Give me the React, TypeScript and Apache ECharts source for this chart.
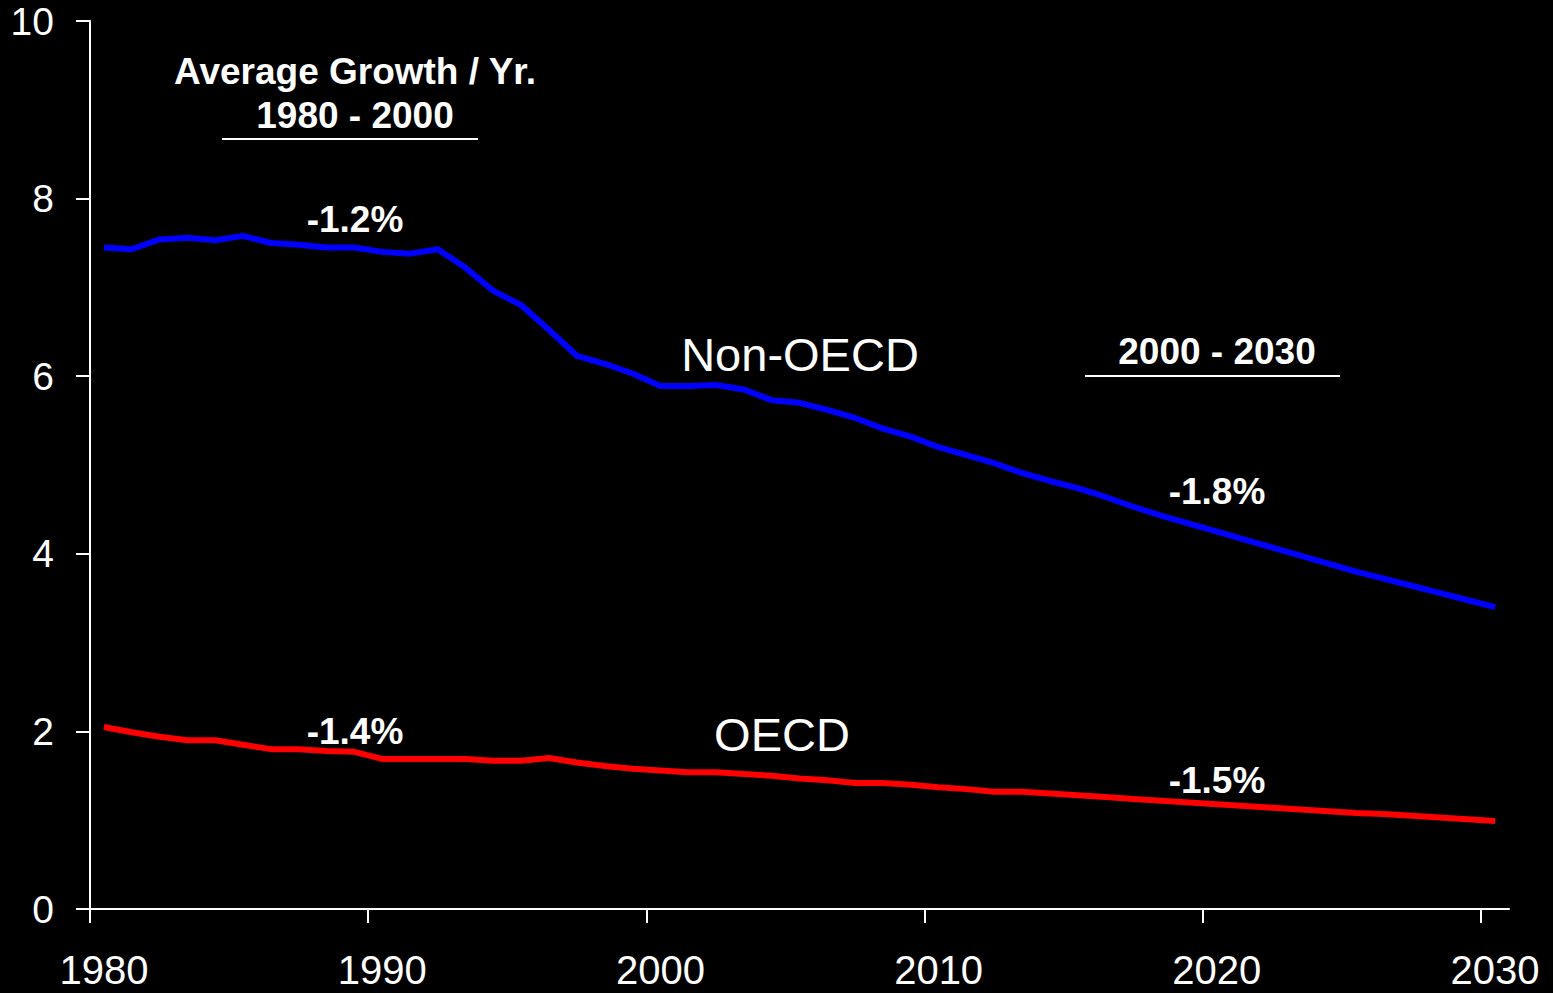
import React, { useEffect, useRef } from 'react';
import * as echarts from 'echarts';

const years = [
  1980, 1981, 1982, 1983, 1984, 1985, 1986, 1987, 1988, 1989,
  1990, 1991, 1992, 1993, 1994, 1995, 1996, 1997, 1998, 1999,
  2000, 2001, 2002, 2003, 2004, 2005, 2006, 2007, 2008, 2009,
  2010, 2011, 2012, 2013, 2014, 2015, 2016, 2017, 2018, 2019,
  2020, 2021, 2022, 2023, 2024, 2025, 2026, 2027, 2028, 2029,
  2030,
];

const nonOecd = [
  7.45, 7.43, 7.54, 7.56, 7.53, 7.58, 7.50, 7.48, 7.45, 7.45,
  7.40, 7.38, 7.43, 7.22, 6.96, 6.80, 6.52, 6.23, 6.14, 6.03,
  5.89, 5.89, 5.90, 5.85, 5.73, 5.70, 5.62, 5.53, 5.41, 5.32,
  5.20, 5.11, 5.02, 4.91, 4.82, 4.74, 4.64, 4.53, 4.43, 4.34,
  4.25, 4.16, 4.07, 3.98, 3.89, 3.80, 3.72, 3.64, 3.56, 3.48,
  3.40,
];

const oecd = [
  2.05, 1.99, 1.94, 1.90, 1.90, 1.85, 1.80, 1.80, 1.78, 1.77,
  1.69, 1.69, 1.69, 1.69, 1.67, 1.67, 1.70, 1.65, 1.61, 1.58,
  1.56, 1.54, 1.54, 1.52, 1.50, 1.47, 1.45, 1.42, 1.42, 1.40,
  1.37, 1.35, 1.32, 1.32, 1.30, 1.28, 1.26, 1.24, 1.22, 1.20,
  1.18, 1.16, 1.14, 1.12, 1.10, 1.08, 1.07, 1.05, 1.03, 1.01,
  0.99,
];

const xTickYears = [1980, 1990, 2000, 2010, 2020, 2030];

const FONT = '"Liberation Sans", Arial, Helvetica, sans-serif';

function txt(text: string, x: number, y: number, bold: boolean, size: number) {
  return {
    type: 'text',
    x,
    y,
    z: 10,
    style: {
      text,
      fill: '#ffffff',
      fontFamily: FONT,
      fontSize: size,
      fontWeight: bold ? 'bold' : 'normal',
      align: 'center',
      verticalAlign: 'middle',
    },
  };
}

function hline(x1: number, x2: number, y: number) {
  return {
    type: 'line',
    z: 10,
    shape: { x1, y1: y, x2, y2: y },
    style: { stroke: '#ffffff', lineWidth: 2 },
  };
}

export default function App() {
  const ref = useRef<HTMLDivElement>(null);

  useEffect(() => {
    document.body.style.margin = '0';
    document.body.style.background = '#000';
    const chart = echarts.init(ref.current!, null, { renderer: 'svg' });
    chart.setOption({
      animation: false,
      backgroundColor: '#000000',
      grid: { left: 90, right: 44, top: 21, bottom: 84 },
      xAxis: {
        type: 'value',
        min: 1980,
        max: 2031,
        splitLine: { show: false },
        axisLine: { show: true, onZero: false, lineStyle: { color: '#ffffff', width: 2 } },
        axisTick: {
          show: true,
          length: 14,
          lineStyle: { color: '#ffffff', width: 2 },
          customValues: xTickYears,
        },
        axisLabel: {
          color: '#ffffff',
          fontSize: 40,
          fontFamily: FONT,
          margin: 41,
          customValues: xTickYears.map((y) => y + 0.5),
          formatter: (v: number) => String(Math.floor(v)),
        },
      },
      yAxis: {
        type: 'value',
        min: 0,
        max: 10,
        interval: 2,
        splitLine: { show: false },
        axisLine: { show: true, lineStyle: { color: '#ffffff', width: 2 } },
        axisTick: { show: true, length: 14, lineStyle: { color: '#ffffff', width: 2 } },
        axisLabel: { color: '#ffffff', fontSize: 39, fontFamily: FONT, margin: 36 },
      },
      series: [
        {
          name: 'Non-OECD',
          type: 'line',
          data: years.map((y, i) => [y + 0.5, nonOecd[i]]),
          symbol: 'none',
          lineStyle: { color: '#0000ff', width: 6, join: 'round' },
          itemStyle: { color: '#0000ff' },
          z: 3,
        },
        {
          name: 'OECD',
          type: 'line',
          data: years.map((y, i) => [y + 0.5, oecd[i]]),
          symbol: 'none',
          lineStyle: { color: '#ff0000', width: 6, join: 'round' },
          itemStyle: { color: '#ff0000' },
          z: 3,
        },
      ],
      graphic: [
        txt('Average Growth / Yr.', 355, 71, true, 37),
        txt('1980 - 2000', 355, 115, true, 37),
        hline(222, 478, 139),
        txt('-1.2%', 355, 219, true, 37),
        txt('Non-OECD', 800, 354, false, 47),
        txt('2000 - 2030', 1217, 351, true, 37),
        hline(1085, 1340, 376),
        txt('-1.8%', 1217, 491, true, 37),
        txt('OECD', 782, 734, false, 47),
        txt('-1.4%', 355, 731, true, 37),
        txt('-1.5%', 1217, 780, true, 37),
      ],
    });
    return () => chart.dispose();
  }, []);

  return (
    <div
      ref={ref}
      style={{ position: 'fixed', left: 0, top: 0, width: 1553, height: 993, background: '#000' }}
    />
  );
}
